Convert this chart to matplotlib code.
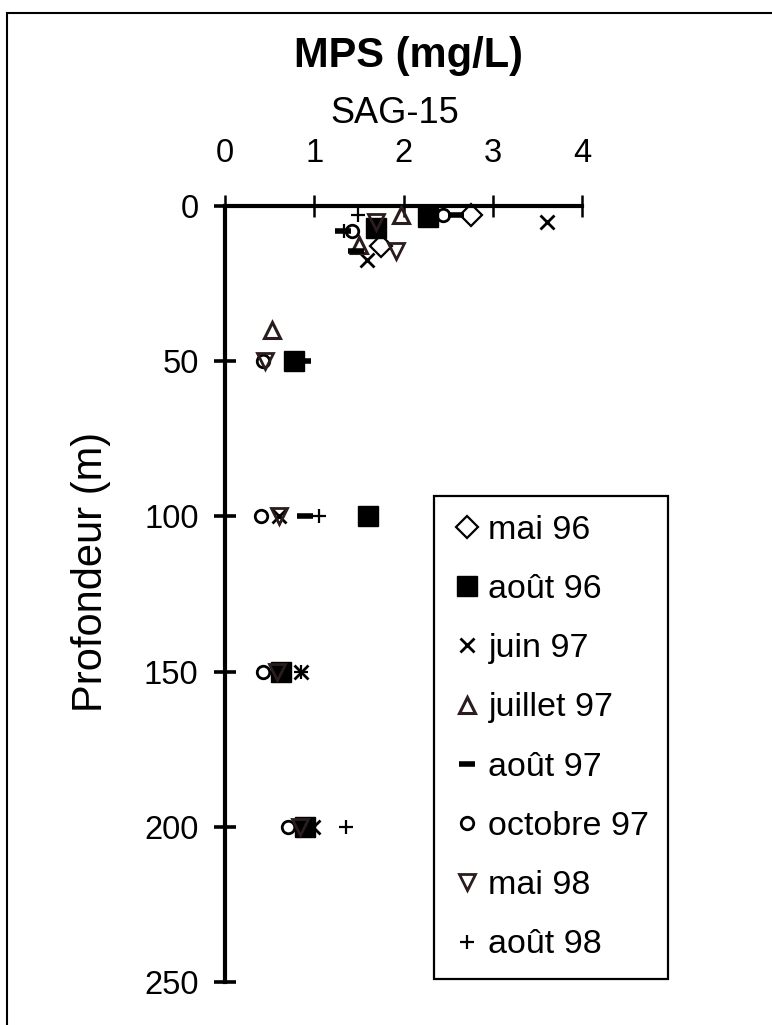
import matplotlib
matplotlib.use("Agg")
import matplotlib.pyplot as plt
from matplotlib.patches import Rectangle

plt.rcParams["font.family"] = ["Liberation Sans", "DejaVu Sans"]

# ── DONNÉES (MPS en mg/L, profondeur en m) ────────────────────────────────────

mai96_x = [2.76, 1.75]
mai96_z = [3, 13]

aout96_x = [2.28, 1.69, 0.77, 1.60, 0.63, 0.90]
aout96_z = [3.5, 7, 50, 100, 150, 200]

juin97_x = [3.61, 1.59, 0.60, 0.85, 0.99]
juin97_z = [5, 17.5, 100, 150, 200]

juillet97_x = [1.97, 1.50, 0.53]
juillet97_z = [3, 12.5, 40]

aout97_x = [2.59, 1.32, 1.47, 0.87, 0.90]
aout97_z = [3, 8, 14.5, 50, 100]

octobre97_x = [2.44, 1.42, 0.43, 0.40, 0.43, 0.71]
octobre97_z = [3, 8, 50, 100, 150, 200]

mai98_x = [1.69, 1.92, 0.45, 0.60, 0.58, 0.84]
mai98_z = [5, 14.5, 50, 100, 150, 200]

aout98_x = [1.49, 1.33, 1.05, 0.85, 1.36]
aout98_z = [3, 8, 100, 150, 200]

x_ticks = [0, 1, 2, 3, 4]
z_ticks = [0, 50, 100, 150, 200, 250]

# ── FIGURE ────────────────────────────────────────────────────────────────────

W, H = 772, 1025
fig = plt.figure(figsize=(W / 100, H / 100), dpi=100)
ax = fig.add_axes([225 / W, 1 - 982 / H, (582 - 225) / W, (982 - 206) / H])

k = "black"
br = "#2b1d1d"
series = [
    (mai96_x, mai96_z, "mai 96", dict(marker="D", ms=11, mfc="none", mec=k, mew=1.6)),
    (aout96_x, aout96_z, "août 96", dict(marker="s", ms=15, mfc=k, mec=k, mew=1)),
    (juin97_x, juin97_z, "juin 97", dict(marker="x", ms=10, mec=k, mew=2)),
    (juillet97_x, juillet97_z, "juillet 97", dict(marker="^", ms=11, mfc="none", mec=br, mew=2.2)),
    (aout97_x, aout97_z, "août 97", dict(marker="_", ms=11, mec=k, mew=4)),
    (octobre97_x, octobre97_z, "octobre 97", dict(marker="o", ms=9, mfc="none", mec=k, mew=2)),
    (mai98_x, mai98_z, "mai 98", dict(marker="v", ms=11, mfc="none", mec=br, mew=2)),
    (aout98_x, aout98_z, "août 98", dict(marker="+", ms=10, mec=k, mew=1.6)),
]

handles = []
for xs, zs, label, style in series:
    (h,) = ax.plot(xs, zs, linestyle="none", label=label, clip_on=False, zorder=3, **style)
    handles.append(h)

ax.set_xlim(0, 4)
ax.set_ylim(250, 0)
ax.set_xticks(x_ticks)
ax.set_yticks(z_ticks)
ax.xaxis.tick_top()

for side in ["right", "bottom"]:
    ax.spines[side].set_visible(False)
for side in ["left", "top"]:
    ax.spines[side].set_linewidth(3)
    ax.spines[side].set_zorder(2)

ax.tick_params(axis="x", direction="inout", length=16, width=1.8, pad=19, labelsize=23.5)
ax.tick_params(axis="y", direction="inout", length=16, width=2.6, pad=11, labelsize=23.5)
ax.patch.set_alpha(0)

# Titre et sous-titre
fig.text(409 / W, 1 - 67 / H, "MPS (mg/L)", ha="center", va="baseline",
         fontsize=30, fontweight="bold")
fig.text(395 / W, 1 - 123 / H, "SAG-15", ha="center", va="baseline", fontsize=26)
fig.text(91 / W, 1 - 572 / H, "Profondeur (m)", ha="center", va="center",
         rotation=90, fontsize=30)

# Légende
leg = fig.legend(handles=handles, loc="upper left",
                 bbox_to_anchor=(434 / W, 1 - 496 / H), borderaxespad=0,
                 fontsize=24.5, frameon=True, fancybox=False, framealpha=1,
                 labelspacing=0.83, handlelength=0.85, handletextpad=0.2,
                 borderpad=0.55, numpoints=1)
leg.get_frame().set_edgecolor("black")
leg.get_frame().set_linewidth(1.6)

# Cadre extérieur
fig.patches.append(Rectangle((7 / W, -0.1), 1.2, 1.1 - 13 / H, transform=fig.transFigure,
                             fill=False, edgecolor="black", linewidth=1.5))

plt.savefig("out.png", dpi=100)
plt.close()
